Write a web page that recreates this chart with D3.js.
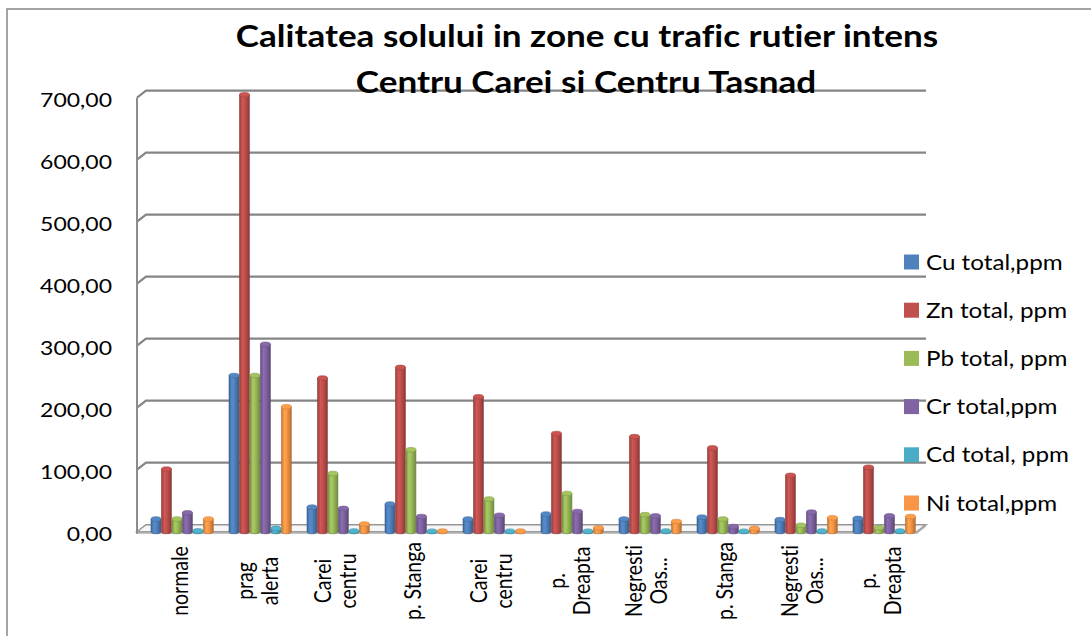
<!DOCTYPE html>
<html><head><meta charset="utf-8">
<script src="https://cdn.jsdelivr.net/npm/d3@7"></script>
<style>body{margin:0;background:#fff;} svg{display:block;font-family:Lato,'Open Sans',sans-serif;font-variant-ligatures:none;font-feature-settings:"liga" 0;}</style>
</head><body><svg id="c" width="1091" height="636"></svg>
<script>
const categories = ["normale","prag alerta","Carei centru","p. Stanga","Carei centru","p. Dreapta","Negresti Oas...","p. Stanga","Negresti Oas...","p. Dreapta"];
const categoryLabelLines = [["normale"],["prag","alerta"],["Carei","centru"],["p. Stanga"],["Carei","centru"],["p.","Dreapta"],["Negresti","Oas..."],["p. Stanga"],["Negresti","Oas..."],["p.","Dreapta"]];
const seriesNames = ["Cu total,ppm","Zn total, ppm","Pb total, ppm","Cr total,ppm","Cd total, ppm","Ni total,ppm"];
const cuValues = [20,250,39,44,20,28,20,23,19,21];
const znValues = [100,700,246,263,216,157,152,134,90,103];
const pbValues = [20,250,93,131,52,61,27,20,10,6];
const crValues = [30,300,37,24,26,32,25,8,31,25];
const cdValues = [1,5,0.8,0.5,0.5,0.5,0.8,0.5,0.8,0.8];
const niValues = [20,200,12,0.6,0.6,6,16,5,22,24];
const seriesColors = ["#4F81BD","#C0504D","#9BBB59","#8064A2","#4BACC6","#F79646"];
const yTicks = [0,100,200,300,400,500,600,700];
const titleLines = ["Calitatea solului in zone cu trafic rutier intens","Centru Carei si Centru Tasnad"];

const seriesValues = [cuValues,znValues,pbValues,crValues,cdValues,niValues];
const SX = 1.15;
const svg = d3.select("#c");
const defs = svg.append("defs");

svg.append("rect").attr("x",7).attr("y",9).attr("width",1100).attr("height",650)
  .attr("fill","none").attr("stroke","#868686").attr("stroke-width",1.5);

const idx = d3.range(categories.length);
const x0 = d3.scaleBand().domain(idx).range([143,923]);
const x1 = d3.scaleBand().domain(d3.range(seriesNames.length)).range([8,70.4]).paddingInner(0.05);
const xl = d3.scaleBand().domain(idx).range([141,919]);
const yBack = d3.scaleLinear().domain([0,700]).range([524.7,90.7]);
const yBar = d3.scaleLinear().domain([0,700]).range([531.5,94.7]);
const DX = 9, DY = 7, LEFT = 137, RIGHT = 926;

// floor
const y0b = yBack(0);
svg.append("path")
  .attr("d",`M${LEFT},${y0b+DY}L${RIGHT-DX},${y0b+DY}L${RIGHT},${y0b}L${LEFT+DX},${y0b}Z`)
  .attr("fill","#f7f7f7").attr("stroke","#969696").attr("stroke-width",1.5);
svg.append("path")
  .attr("d",`M${LEFT},${y0b+DY}L${RIGHT-DX},${y0b+DY}L${RIGHT},${y0b}L${RIGHT},${y0b+2}L${RIGHT-DX},${y0b+DY+2}L${LEFT},${y0b+DY+2}Z`)
  .attr("fill","#b0b0b0");

// gridlines
svg.append("g").selectAll("path").data(yTicks.filter(v=>v>0)).join("path")
  .attr("d",v=>`M${LEFT},${yBack(v)+DY}L${LEFT+DX},${yBack(v)}L${RIGHT},${yBack(v)}`)
  .attr("fill","none").attr("stroke","#858585").attr("stroke-width",2.2);
svg.append("path").attr("d",`M${LEFT},${yBack(700)+DY}L${LEFT},${y0b+DY+2}`)
  .attr("stroke","#8c8c8c").attr("stroke-width",2);

// y labels
svg.append("g").selectAll("text").data(yTicks).join("text")
  .attr("transform",v=>`translate(112,${yBack(v)+16.3}) scale(${SX},1)`)
  .attr("text-anchor","end").attr("font-size",20).attr("fill","#000")
  .text(v=>d3.format(".2f")(v).replace(".",","));

// gradients
seriesColors.forEach((c,s)=>{
  const g = defs.append("linearGradient").attr("id","g"+s).attr("x1",0).attr("x2",1).attr("y1",0).attr("y2",0);
  const base = d3.color(c);
  [[0,base.darker(0.7)],[0.3,base.brighter(0.25)],[0.55,base],[1,base.darker(0.9)]].forEach(([o,col])=>{
    g.append("stop").attr("offset",o).attr("stop-color",col.formatHex());
  });
});

// bars
const RY = 2.3;
const barsG = svg.append("g");
seriesValues.forEach((vals,s)=>{
  const w = x1.bandwidth();
  const g = barsG.append("g");
  vals.forEach((v,i)=>{
    const x = x0(i)+x1(s), yt = yBar(v), yb = yBar(0);
    g.append("path")
      .attr("d",`M${x},${yt}L${x},${yb}A${w/2},${RY} 0 0 0 ${x+w},${yb}L${x+w},${yt}Z`)
      .attr("fill",`url(#g${s})`).attr("stroke",d3.color(seriesColors[s]).darker(0.8).formatHex()).attr("stroke-width",0.6);
    g.append("ellipse").attr("cx",x+w/2).attr("cy",yt).attr("rx",w/2).attr("ry",RY)
      .attr("fill",d3.color(seriesColors[s]).brighter(0.15).formatHex())
      .attr("stroke",d3.color(seriesColors[s]).darker(0.5).formatHex()).attr("stroke-width",0.6);
  });
});

// category labels
const cg = svg.append("g").selectAll("g").data(idx).join("g")
  .attr("transform",i=>`translate(${xl(i)+xl.bandwidth()/2},581) scale(1.2,1) rotate(-90)`);
cg.each(function(i){
  const lines = categoryLabelLines[i], n = lines.length;
  d3.select(this).selectAll("text").data(lines).join("text")
    .attr("text-anchor","middle").attr("x",0)
    .attr("y",(d,j)=>(j-(n-1)/2)*20.8).attr("dy","0.35em")
    .attr("font-size",19.5).attr("fill","#000").text(d=>d);
});

// title
svg.append("g").selectAll("text").data(titleLines).join("text")
  .attr("transform",(d,j)=>`translate(${j?586:587},${j?93:47}) scale(${SX},1)`)
  .attr("text-anchor","middle").attr("font-size",30.5).attr("font-weight","bold").attr("fill","#000")
  .text(d=>d);

// legend
const lg = svg.append("g").selectAll("g").data(seriesNames).join("g");
lg.append("rect").attr("x",904).attr("y",(d,s)=>262+s*48.2-7.5).attr("width",15).attr("height",15)
  .attr("fill",(d,s)=>seriesColors[s]);
lg.append("text").attr("transform",(d,s)=>`translate(926,${262+s*48.2+7.5}) scale(1.18,1)`)
  .attr("font-size",20.5).attr("fill","#000").text(d=>d);
</script></body></html>
